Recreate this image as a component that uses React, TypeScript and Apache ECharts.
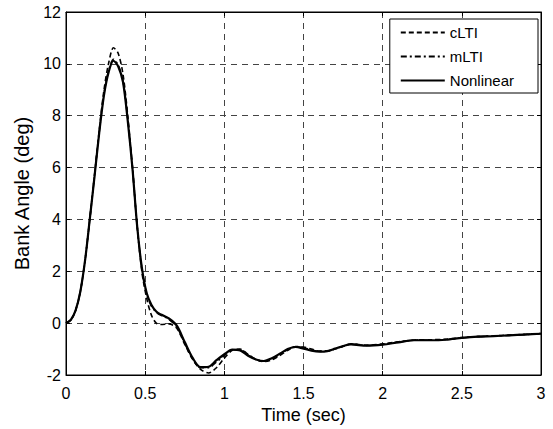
import React, { useEffect, useRef } from "react";
import * as echarts from "echarts";

const seriesNames = ["cLTI", "mLTI", "Nonlinear"];

const time = [
  0, 0.03, 0.06, 0.09, 0.12, 0.15, 0.18, 0.21, 0.24, 0.27, 0.3, 0.33, 0.36, 0.39,
  0.42, 0.45, 0.48, 0.51, 0.54, 0.57, 0.6, 0.65, 0.7, 0.75, 0.8, 0.85, 0.9, 0.95,
  1.0, 1.05, 1.1, 1.15, 1.2, 1.25, 1.3, 1.35, 1.4, 1.45, 1.5, 1.55, 1.6, 1.65,
  1.7, 1.75, 1.8, 1.9, 2.0, 2.1, 2.2, 2.3, 2.4, 2.5, 2.6, 2.7, 2.8, 2.9, 3.0,
];

const cLTI = [
  0, 0.12, 0.48, 1.2, 2.4, 4.0, 5.7, 7.45, 9.0, 10.05, 10.62, 10.4, 9.6, 8.0,
  6.0, 3.7, 1.95, 0.95, 0.3, 0.0, -0.05, -0.03, -0.2, -0.82, -1.4, -1.78, -1.92, -1.72,
  -1.35, -1.05, -1.0, -1.2, -1.4, -1.48, -1.42, -1.25, -1.05, -0.9, -0.92, -1.0, -1.08, -1.08,
  -1.0, -0.9, -0.8, -0.85, -0.8, -0.72, -0.65, -0.64, -0.62, -0.56, -0.52, -0.49, -0.46, -0.43, -0.4,
];

const mLTI = [
  0, 0.12, 0.48, 1.2, 2.4, 4.0, 5.67, 7.38, 8.85, 9.75, 10.18, 9.95, 9.35, 7.85,
  5.97, 3.7, 2.05, 1.1, 0.65, 0.42, 0.3, 0.15, -0.15, -0.78, -1.38, -1.72, -1.72, -1.5,
  -1.25, -1.03, -1.02, -1.23, -1.4, -1.47, -1.38, -1.2, -1.02, -0.91, -0.95, -1.03, -1.09, -1.08,
  -0.99, -0.89, -0.81, -0.86, -0.82, -0.73, -0.66, -0.65, -0.63, -0.57, -0.52, -0.5, -0.47, -0.44, -0.41,
];

const nonlinear = [
  0, 0.12, 0.48, 1.2, 2.4, 4.0, 5.65, 7.35, 8.8, 9.7, 10.12, 9.9, 9.3, 7.8,
  5.95, 3.7, 2.1, 1.15, 0.7, 0.45, 0.33, 0.18, -0.1, -0.73, -1.34, -1.7, -1.68, -1.43,
  -1.2, -1.02, -1.05, -1.26, -1.4, -1.46, -1.35, -1.18, -1.0, -0.92, -0.98, -1.06, -1.1, -1.08,
  -0.98, -0.88, -0.82, -0.87, -0.83, -0.74, -0.66, -0.66, -0.64, -0.57, -0.52, -0.5, -0.47, -0.44, -0.41,
];

const FONT = "'Liberation Sans', Arial, Helvetica, sans-serif";

export default function App() {
  const ref = useRef<HTMLDivElement>(null);
  useEffect(() => {
    if (!ref.current) return;
    const chart = echarts.init(ref.current, null, { renderer: "svg" });
    const pairs = (ys: number[]) => time.map((t, i) => [t, ys[i]]);
    const gridLine = { show: true, lineStyle: { color: "#444", type: [6, 5] as any, width: 1 } };
    const baseX = {
      type: "value" as const,
      min: 0,
      max: 3,
      interval: 0.5,
      axisLine: { show: true, onZero: false, lineStyle: { color: "#000", width: 1 } },
      axisTick: { show: true, inside: true, length: 4, lineStyle: { color: "#000" } },
    };
    const baseY = {
      type: "value" as const,
      min: -2,
      max: 12,
      interval: 2,
      axisLine: { show: true, onZero: false, lineStyle: { color: "#000", width: 1 } },
      axisTick: { show: true, inside: true, length: 4, lineStyle: { color: "#000" } },
    };
    chart.setOption({
      animation: false,
      backgroundColor: "#fff",
      grid: {
        left: 66,
        right: 12,
        top: 12,
        bottom: 54,
        show: true,
        borderColor: "#000",
        borderWidth: 1,
        backgroundColor: "#fff",
      },
      legend: {
        data: seriesNames,
        orient: "vertical",
        right: 15,
        top: 19,
        itemWidth: 44,
        itemHeight: 14,
        itemGap: 9,
        padding: [6, 24, 5, 10],
        backgroundColor: "#fff",
        borderColor: "#000",
        borderWidth: 1,
        itemStyle: { opacity: 0 },
        textStyle: { fontSize: 15, fontFamily: FONT, color: "#000" },
      },
      xAxis: [
        {
          ...baseX,
          name: "Time (sec)",
          nameLocation: "middle",
          nameGap: 30,
          nameTextStyle: { fontSize: 18, fontFamily: FONT, color: "#000" },
          axisLabel: { fontSize: 16, fontFamily: FONT, color: "#000", margin: 10 },
          splitLine: gridLine,
        },
        {
          ...baseX,
          position: "top",
          axisLabel: { show: false },
          splitLine: { show: false },
        },
      ],
      yAxis: [
        {
          ...baseY,
          name: "Bank Angle (deg)",
          nameLocation: "middle",
          nameGap: 32,
          nameTextStyle: { fontSize: 20, fontFamily: FONT, color: "#000" },
          axisLabel: { fontSize: 16, fontFamily: FONT, color: "#000", margin: 5 },
          splitLine: gridLine,
        },
        {
          ...baseY,
          position: "right",
          axisLabel: { show: false },
          splitLine: { show: false },
        },
      ],
      series: [
        {
          name: "cLTI",
          type: "line",
          data: pairs(cLTI),
          smooth: 0.3,
          showSymbol: false,
          symbol: "none",
          itemStyle: { color: "#000" },
          lineStyle: { color: "#000", width: 1.6, type: [5, 3] },
        },
        {
          name: "mLTI",
          type: "line",
          data: pairs(mLTI),
          smooth: 0.3,
          showSymbol: false,
          symbol: "none",
          itemStyle: { color: "#000" },
          lineStyle: { color: "#000", width: 1.6, type: [6, 3, 2, 3] },
        },
        {
          name: "Nonlinear",
          type: "line",
          data: pairs(nonlinear),
          smooth: 0.3,
          showSymbol: false,
          symbol: "none",
          itemStyle: { color: "#000" },
          lineStyle: { color: "#000", width: 2.2, type: "solid" },
        },
      ],
    });
    return () => chart.dispose();
  }, []);
  return (
    <div
      ref={ref}
      style={{ position: "absolute", left: 0, top: 0, width: 553, height: 429 }}
    />
  );
}
